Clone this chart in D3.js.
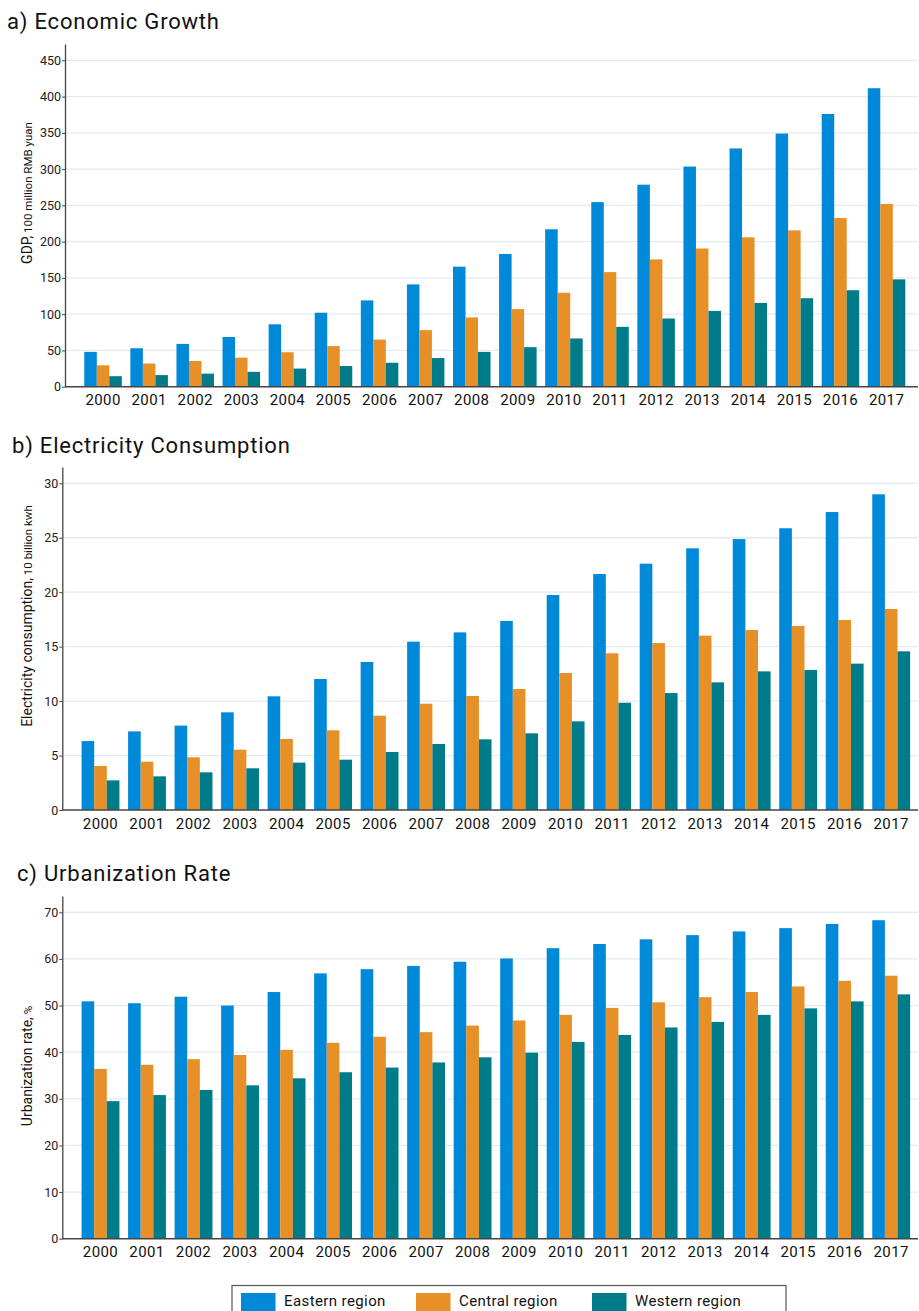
<!DOCTYPE html>
<html>
<head>
<meta charset="utf-8">
<script src="https://cdn.jsdelivr.net/npm/d3@7"></script>
<style>
  html, body { margin: 0; padding: 0; background: #fff; }
  svg { display: block; font-family: Roboto, "Noto Sans", sans-serif; }
</style>
</head>
<body>
<svg id="chart" width="919" height="1311"></svg>
<script>
// ---- data ----
const years = ["2000","2001","2002","2003","2004","2005","2006","2007","2008",
               "2009","2010","2011","2012","2013","2014","2015","2016","2017"];
const regions = ["Eastern region", "Central region", "Western region"];
const regionColors = ["#0088d9", "#e69027", "#007b8a"];

// GDP, 100 million RMB yuan
const gdpEastern  = [48, 53, 59, 68.5, 86, 102, 119, 141, 165.5, 183, 217, 254.5, 278.5, 303.5, 328.5, 349, 376, 411.5];
const gdpCentral  = [29.5, 32, 35.5, 40, 47.5, 56, 65, 78, 95.5, 107, 129.5, 158, 175.5, 190.5, 206, 215.5, 232.5, 252];
const gdpWestern  = [14.5, 16, 18, 20.5, 25, 28.5, 33, 39.5, 48, 54.5, 66.5, 82.5, 94, 104.5, 115.5, 122, 133, 148];
const gdpTicks    = [0, 50, 100, 150, 200, 250, 300, 350, 400, 450];

// Electricity consumption, 10 billion kwh
const elecEastern = [6.33, 7.22, 7.75, 8.97, 10.44, 12.03, 13.59, 15.46, 16.31, 17.36, 19.74, 21.67, 22.62, 24.03, 24.88, 25.87, 27.36, 28.99];
const elecCentral = [4.04, 4.44, 4.84, 5.54, 6.52, 7.32, 8.66, 9.76, 10.47, 11.11, 12.58, 14.39, 15.33, 16.01, 16.53, 16.9, 17.45, 18.46];
const elecWestern = [2.72, 3.09, 3.46, 3.83, 4.35, 4.62, 5.33, 6.06, 6.49, 7.04, 8.14, 9.85, 10.74, 11.72, 12.73, 12.86, 13.44, 14.57];
const elecTicks   = [0, 5, 10, 15, 20, 25, 30];

// Urbanization rate, %
const urbEastern  = [50.9, 50.5, 51.9, 50.0, 52.9, 56.9, 57.8, 58.5, 59.4, 60.1, 62.3, 63.2, 64.2, 65.1, 65.9, 66.6, 67.5, 68.3];
const urbCentral  = [36.4, 37.3, 38.5, 39.4, 40.5, 42.0, 43.3, 44.3, 45.7, 46.8, 48.0, 49.5, 50.7, 51.8, 52.9, 54.1, 55.3, 56.4];
const urbWestern  = [29.5, 30.8, 31.9, 32.9, 34.4, 35.7, 36.7, 37.8, 38.9, 39.9, 42.2, 43.7, 45.3, 46.5, 48.0, 49.4, 50.9, 52.4];
const urbTicks    = [0, 10, 20, 30, 40, 50, 60, 70];

// ---- layout of the three panels ----
const panels = [
  { title: "a) Economic Growth", titleX: 7, titleY: 29,
    axisX: 65, zeroY: 386.7, topTick: 450, topTickY: 60.3,
    band: [80, 909.6], series: [gdpEastern, gdpCentral, gdpWestern], ticks: gdpTicks,
    yTitleMain: "GDP,", yTitleSub: " 100 million RMB yuan", yTitleCY: 193 },
  { title: "b) Electricity Consumption", titleX: 12, titleY: 453,
    axisX: 62.3, zeroY: 810, topTick: 30, topTickY: 483.3,
    band: [77.25, 914.45], series: [elecEastern, elecCentral, elecWestern], ticks: elecTicks,
    yTitleMain: "Electricity consumption,", yTitleSub: " 10 billion kwh", yTitleCY: 616 },
  { title: "c) Urbanization Rate", titleX: 17, titleY: 881,
    axisX: 62.3, zeroY: 1238.7, topTick: 70, topTickY: 912.3,
    band: [77.25, 914.45], series: [urbEastern, urbCentral, urbWestern], ticks: urbTicks,
    yTitleMain: "Urbanization rate,", yTitleSub: "  %", yTitleCY: 1066 }
];
const plotRight = 918;

const svg = d3.select("#chart");

panels.forEach(p => {
  const g = svg.append("g");
  const maxVal = p.topTick * 1.05;
  const pxPerUnit = (p.zeroY - p.topTickY) / p.topTick;
  const y = d3.scaleLinear().domain([0, maxVal]).range([p.zeroY, p.zeroY - maxVal * pxPerUnit]);

  const x = d3.scaleBand().domain(years).range(p.band).paddingInner(0.186).paddingOuter(0.093);
  const xs = d3.scaleBand().domain(d3.range(regions.length)).range([0, x.bandwidth()]);

  // panel title
  g.append("text")
    .attr("x", p.titleX).attr("y", p.titleY)
    .attr("font-size", 22).attr("font-weight", 400).attr("fill", "#111")
    .attr("letter-spacing", 0.8)
    .text(p.title);

  // horizontal gridlines
  g.append("g").selectAll("line")
    .data(p.ticks.filter(t => t > 0))
    .join("line")
    .attr("x1", p.axisX + 1).attr("x2", plotRight)
    .attr("y1", d => y(d)).attr("y2", d => y(d))
    .attr("stroke", "#e3ebf2").attr("stroke-width", 1.3);

  // bars
  years.forEach((yr, i) => {
    p.series.forEach((vals, s) => {
      g.append("rect")
        .attr("x", x(yr) + xs(s))
        .attr("y", y(vals[i]))
        .attr("width", xs.bandwidth())
        .attr("height", y(0) - y(vals[i]))
        .attr("fill", regionColors[s]);
    });
  });

  // y axis
  const yAxis = d3.axisLeft(y).tickValues(p.ticks).tickSize(3).tickSizeOuter(0).tickPadding(1);
  const ya = g.append("g").attr("transform", `translate(${p.axisX},0)`).call(yAxis);
  ya.select(".domain").attr("stroke", "#444").attr("stroke-width", 1.3);
  ya.selectAll(".tick line").attr("stroke", "#444");
  ya.selectAll(".tick text").attr("font-size", 12.5).attr("fill", "#222")
    .attr("font-family", "Roboto, sans-serif");

  // x axis
  const xAxis = d3.axisBottom(x).tickSize(0).tickPadding(8);
  const xa = g.append("g").attr("transform", `translate(0,${p.zeroY})`).call(xAxis);
  xa.select(".domain").remove();
  xa.selectAll(".tick text").attr("font-size", 15).attr("font-weight", 400).attr("fill", "#111")
    .attr("letter-spacing", 0.4)
    .attr("font-family", "Roboto, sans-serif");
  g.append("line")
    .attr("x1", p.axisX).attr("x2", plotRight)
    .attr("y1", p.zeroY).attr("y2", p.zeroY)
    .attr("stroke", "#444").attr("stroke-width", 1.5);

  // y axis title
  const t = g.append("text")
    .attr("transform", `translate(32,${p.yTitleCY}) rotate(-90)`)
    .attr("text-anchor", "middle").attr("fill", "#111");
  t.append("tspan").attr("font-size", 14).text(p.yTitleMain);
  t.append("tspan").attr("font-size", 11.5).text(p.yTitleSub);
});

// legend
const legend = svg.append("g");
legend.append("rect")
  .attr("x", 232).attr("y", 1285.5).attr("width", 554).attr("height", 40)
  .attr("fill", "#fff").attr("stroke", "#555").attr("stroke-width", 1.2);
const legendX = [241, 416, 592];
regions.forEach((r, i) => {
  legend.append("rect")
    .attr("x", legendX[i]).attr("y", 1293).attr("width", 34.5).attr("height", 20)
    .attr("fill", regionColors[i]);
  legend.append("text")
    .attr("x", legendX[i] + 43).attr("y", 1306)
    .attr("font-size", 15).attr("font-weight", 400).attr("fill", "#111")
    .attr("letter-spacing", 0.4)
    .text(r);
});
</script>
</body>
</html>
